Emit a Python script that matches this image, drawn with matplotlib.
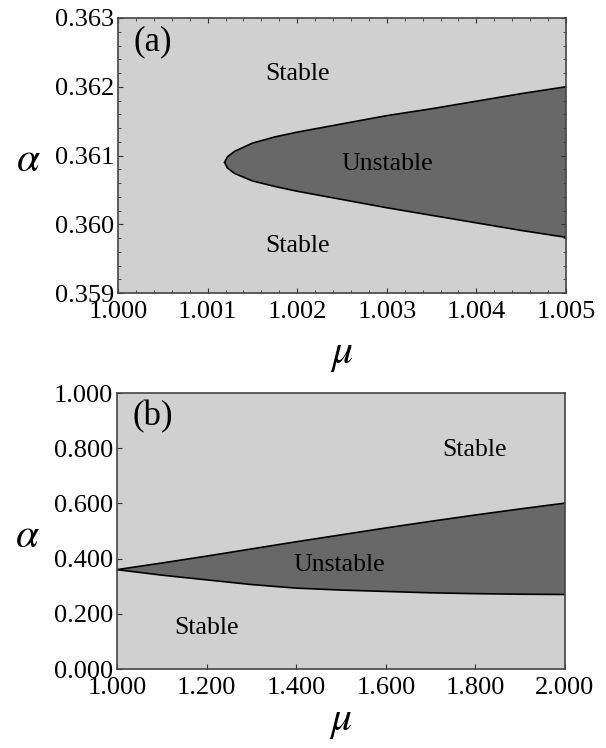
import numpy as np
import matplotlib
matplotlib.use("Agg")
import matplotlib.pyplot as plt
from matplotlib.ticker import MultipleLocator, AutoMinorLocator, FormatStrFormatter

# stability boundary, panel (a): zoom near the onset of instability
mu_a = [1.00119, 1.00122, 1.00130, 1.00150, 1.00175, 1.0020, 1.0025,
        1.0030, 1.0035, 1.0040, 1.0045, 1.0050]
alpha_a_upper = [0.36090, 0.36098, 0.36106, 0.36118, 0.36127, 0.36134, 0.36146,
                 0.36158, 0.36168, 0.36179, 0.36190, 0.36200]
alpha_a_lower = [0.36090, 0.36082, 0.36074, 0.36063, 0.36055, 0.36048, 0.36036,
                 0.36024, 0.36013, 0.36002, 0.35991, 0.35981]

# stability boundary, panel (b): wide range of mu
mu_b = [1.0, 1.1, 1.2, 1.3, 1.4, 1.5, 1.6, 1.7, 1.8, 1.9, 2.0]
alpha_b_upper = [0.360, 0.384, 0.409, 0.435, 0.461, 0.486, 0.511, 0.535, 0.558, 0.580, 0.601]
alpha_b_lower = [0.360, 0.340, 0.323, 0.306, 0.293, 0.286, 0.281, 0.276, 0.273, 0.271, 0.270]

# region labels: (text, mu, alpha)
labels_a = [("Stable", 1.0020, 0.36218), ("Unstable", 1.0030, 0.36088),
            ("Stable", 1.0020, 0.35968)]
labels_b = [("Stable", 1.797, 0.794), ("Unstable", 1.497, 0.377),
            ("Stable", 1.200, 0.148)]

LIGHT = "#d0d0d0"
DARK = "#686868"

plt.rcParams["font.family"] = ["Liberation Serif", "DejaVu Serif"]
plt.rcParams["mathtext.fontset"] = "stix"

fig = plt.figure(figsize=(6.06, 7.48), dpi=100)
ax_a = fig.add_axes([118 / 606, 1 - 293 / 748, 448 / 606, 275 / 748])
ax_b = fig.add_axes([117 / 606, 1 - 669 / 748, 448 / 606, 276 / 748])


def draw_panel(ax, mu, up, low, xlim, ylim, labels, tag, xpad):
    ax.set_facecolor(LIGHT)
    ax.fill(np.concatenate([mu, mu[::-1]]), np.concatenate([up, low[::-1]]),
            color=DARK, lw=0, zorder=1)
    ax.plot(mu, up, color="black", lw=1.2, zorder=2)
    ax.plot(mu, low, color="black", lw=1.2, zorder=2)
    ax.set_xlim(*xlim)
    ax.set_ylim(*ylim)
    for txt, x, y in labels:
        ax.text(x, y, txt, fontsize=18.5, ha="center", va="center", zorder=3)
    ax.text(0.035, 0.915, tag, transform=ax.transAxes, fontsize=25,
            ha="left", va="center")
    ax.xaxis.set_major_formatter(FormatStrFormatter("%.3f"))
    ax.yaxis.set_major_formatter(FormatStrFormatter("%.3f"))
    ax.tick_params(labelsize=19, direction="in", length=3.5, width=0.8,
                   color="#333333", pad=3)
    ax.tick_params(axis="x", pad=6)
    ax.tick_params(which="minor", direction="in", length=2, width=0.6,
                   color="#333333")
    for s in ax.spines.values():
        s.set_color("#444444")
        s.set_linewidth(1.2)
    ax.set_xlabel(r"$\mu$", fontsize=30, labelpad=xpad)
    ax.set_ylabel(r"$\alpha$", fontsize=30, rotation=0, va="center", labelpad=0)
    ax.yaxis.set_label_coords(-0.2, 0.48)


mu_a, alpha_a_upper, alpha_a_lower = map(np.array, (mu_a, alpha_a_upper, alpha_a_lower))
mu_b, alpha_b_upper, alpha_b_lower = map(np.array, (mu_b, alpha_b_upper, alpha_b_lower))

draw_panel(ax_a, mu_a, alpha_a_upper, alpha_a_lower, (1.000, 1.005), (0.359, 0.363),
           labels_a, "(a)", 9)
ax_a.xaxis.set_major_locator(MultipleLocator(0.001))
ax_a.yaxis.set_major_locator(MultipleLocator(0.001))
ax_a.xaxis.set_minor_locator(AutoMinorLocator(5))
ax_a.yaxis.set_minor_locator(AutoMinorLocator(5))
ax_a.tick_params(which="both", top=True, right=True)

draw_panel(ax_b, mu_b, alpha_b_upper, alpha_b_lower, (1.0, 2.0), (0.0, 1.0),
           labels_b, "(b)", 2)
ax_b.xaxis.set_major_locator(MultipleLocator(0.2))
ax_b.yaxis.set_major_locator(MultipleLocator(0.2))

fig.savefig("out.png", dpi=100)
